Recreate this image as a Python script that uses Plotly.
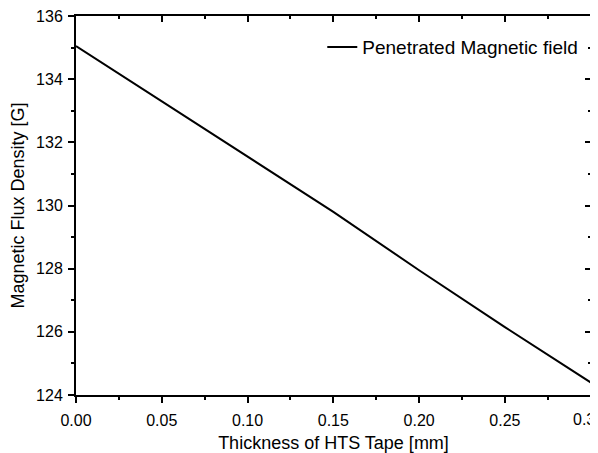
import plotly.graph_objects as go

thickness_mm = [0.0, 0.05, 0.10, 0.15, 0.20, 0.25, 0.30]
flux_density_G = [135.05, 133.30, 131.55, 129.80, 127.95, 126.15, 124.40]
series_name = "Penetrated Magnetic field"

x_ticks = [0.0, 0.05, 0.10, 0.15, 0.20, 0.25, 0.3]
x_tick_labels = ["0.00", "0.05", "0.10", "0.15", "0.20", "0.25", ""]
x_last_label = "0.3"   # drawn as annotation so it stays inside the window edge
y_ticks = [124, 126, 128, 130, 132, 134, 136]

FONT = "Liberation Sans, Arial, sans-serif"
X_RANGE = [0, 0.3002]
Y_RANGE = [124, 136]

fig = go.Figure()
fig.add_trace(go.Scatter(
    x=thickness_mm, y=flux_density_G, mode="lines", name=series_name,
    line=dict(color="black", width=2),
))
# invisible trace to anchor mirrored (top/right) tick axes
fig.add_trace(go.Scatter(
    x=[thickness_mm[0]], y=[flux_density_G[0]], xaxis="x2", yaxis="y2",
    mode="markers", marker=dict(opacity=0), showlegend=False, hoverinfo="skip",
))

common = dict(showgrid=False, zeroline=False, tickcolor="black", tickwidth=1.5,
              ticklen=6, automargin=False)

# page body has an 8px default margin, so the figure is sized to fit the window
fig.update_layout(
    width=590, height=445,
    margin=dict(l=68, r=7, t=8, b=58),
    paper_bgcolor="white", plot_bgcolor="white",
    font=dict(family=FONT, color="black", size=15),
    showlegend=True,
    legend=dict(x=0.985, y=0.918, xanchor="right", yanchor="middle",
                bgcolor="rgba(0,0,0,0)", font=dict(size=19, family=FONT)),
    xaxis=dict(range=X_RANGE, tickvals=x_ticks, ticktext=x_tick_labels,
               ticks="outside", tickfont=dict(size=16), ticklabeloverflow="allow",
               ticklabelstandoff=4,
               showline=True, linecolor="black", linewidth=2, mirror=True,
               minor=dict(dtick=0.025, tick0=0, ticks="outside", ticklen=3,
                          tickcolor="black", tickwidth=1.5),
               title=dict(text="Thickness of HTS Tape [mm]", font=dict(size=18), standoff=12),
               **common),
    yaxis=dict(range=Y_RANGE, tickvals=y_ticks, ticks="outside",
               tickfont=dict(size=16), ticklabeloverflow="allow",
               ticklabelstandoff=2,
               showline=True, linecolor="black", linewidth=2, mirror=True,
               minor=dict(dtick=1, tick0=124, ticks="outside", ticklen=3,
                          tickcolor="black", tickwidth=1.5),
               title=dict(text="Magnetic Flux Density [G]", font=dict(size=18), standoff=14),
               **common),
    xaxis2=dict(range=X_RANGE, overlaying="x", side="top", anchor="y",
                tickvals=x_ticks, ticks="inside", showticklabels=False, showline=False,
                minor=dict(dtick=0.025, tick0=0, ticks="inside", ticklen=3,
                           tickcolor="black", tickwidth=1.5),
                **common),
    yaxis2=dict(range=Y_RANGE, overlaying="y", side="right", anchor="x",
                tickvals=y_ticks, ticks="inside", showticklabels=False, showline=False,
                minor=dict(dtick=1, tick0=124, ticks="inside", ticklen=3,
                           tickcolor="black", tickwidth=1.5),
                **common),
    annotations=[dict(text=x_last_label, x=x_ticks[-1], xref="x", y=0, yref="paper",
                      xanchor="right", yanchor="middle", xshift=6, yshift=-24,
                      showarrow=False, font=dict(size=16, family=FONT))],
)

fig.write_html("out.html")
